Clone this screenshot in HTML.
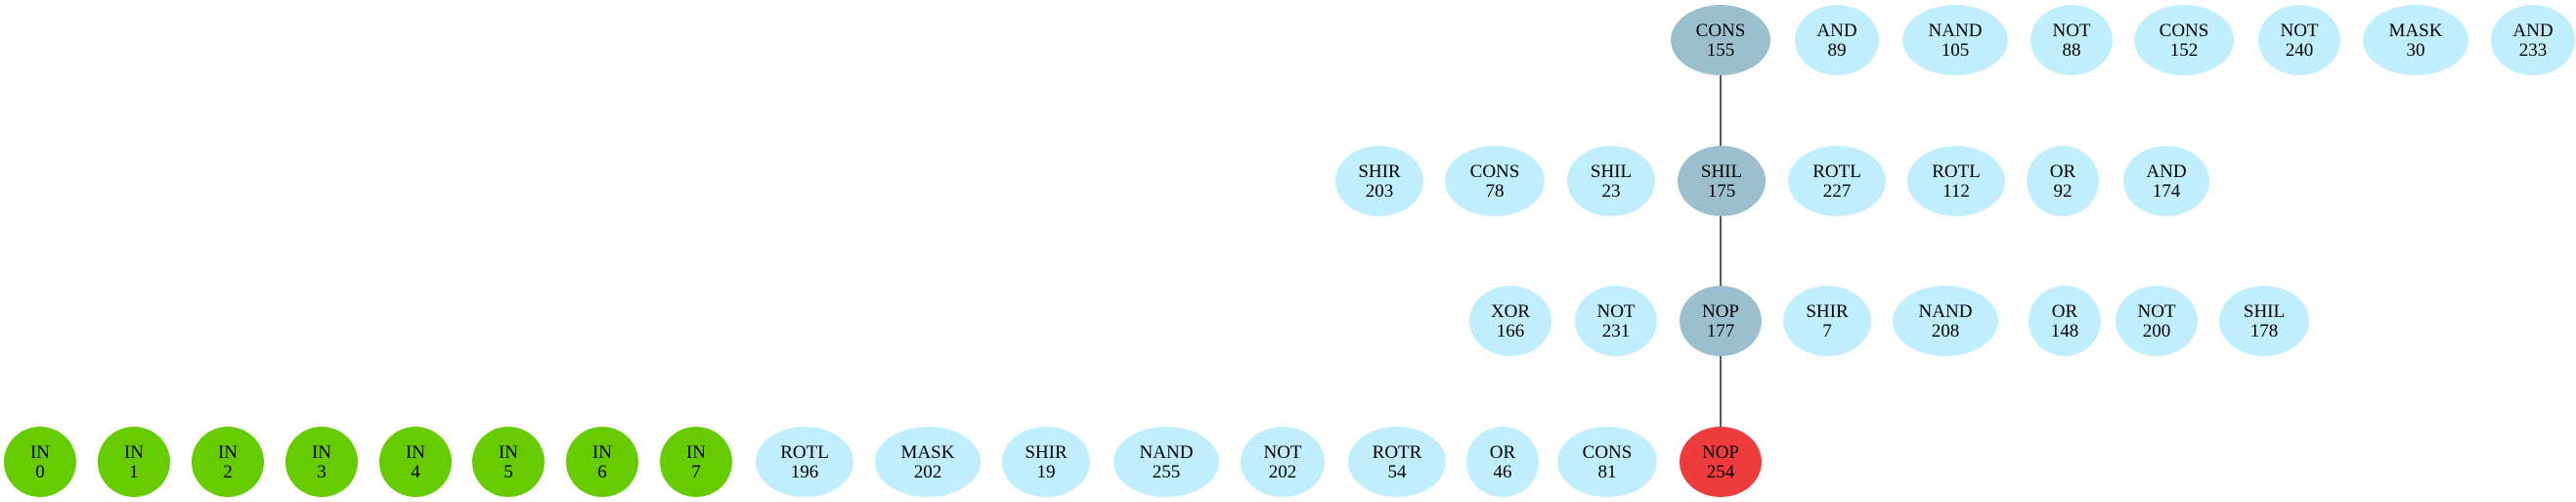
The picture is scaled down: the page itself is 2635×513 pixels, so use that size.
<!DOCTYPE html>
<html><head><meta charset="utf-8"><style>html,body{margin:0;padding:0;background:#fff;}svg{display:block}</style></head>
<body>
<svg width="2635" height="513" viewBox="0 0 2635 513" xmlns="http://www.w3.org/2000/svg" font-family="Liberation Serif, serif" font-size="19" text-anchor="middle">
<g stroke="#555" stroke-width="2">
<line x1="1760" y1="77" x2="1760" y2="149"/>
<line x1="1760" y1="221" x2="1760" y2="292"/>
<line x1="1760" y1="364" x2="1760" y2="436"/>
</g>
<ellipse cx="1760" cy="41" rx="51" ry="36" fill="#9bbfcc"/><text x="1760" y="37">CONS</text><text x="1760" y="57">155</text>
<ellipse cx="1879" cy="41" rx="43" ry="36" fill="#c0eefc"/><text x="1879" y="37">AND</text><text x="1879" y="57">89</text>
<ellipse cx="2000" cy="41" rx="54" ry="36" fill="#c0eefc"/><text x="2000" y="37">NAND</text><text x="2000" y="57">105</text>
<ellipse cx="2119" cy="41" rx="42" ry="36" fill="#c0eefc"/><text x="2119" y="37">NOT</text><text x="2119" y="57">88</text>
<ellipse cx="2234" cy="41" rx="51" ry="36" fill="#c0eefc"/><text x="2234" y="37">CONS</text><text x="2234" y="57">152</text>
<ellipse cx="2352" cy="41" rx="42" ry="36" fill="#c0eefc"/><text x="2352" y="37">NOT</text><text x="2352" y="57">240</text>
<ellipse cx="2471" cy="41" rx="54" ry="36" fill="#c0eefc"/><text x="2471" y="37">MASK</text><text x="2471" y="57">30</text>
<ellipse cx="2591" cy="41" rx="43" ry="36" fill="#c0eefc"/><text x="2591" y="37">AND</text><text x="2591" y="57">233</text>
<ellipse cx="1411" cy="185" rx="45" ry="36" fill="#c0eefc"/><text x="1411" y="181">SHIR</text><text x="1411" y="201">203</text>
<ellipse cx="1529" cy="185" rx="51" ry="36" fill="#c0eefc"/><text x="1529" y="181">CONS</text><text x="1529" y="201">78</text>
<ellipse cx="1648" cy="185" rx="45" ry="36" fill="#c0eefc"/><text x="1648" y="181">SHIL</text><text x="1648" y="201">23</text>
<ellipse cx="1761" cy="185" rx="45" ry="36" fill="#9bbfcc"/><text x="1761" y="181">SHIL</text><text x="1761" y="201">175</text>
<ellipse cx="1879" cy="185" rx="50" ry="36" fill="#c0eefc"/><text x="1879" y="181">ROTL</text><text x="1879" y="201">227</text>
<ellipse cx="2001" cy="185" rx="50" ry="36" fill="#c0eefc"/><text x="2001" y="181">ROTL</text><text x="2001" y="201">112</text>
<ellipse cx="2110" cy="185" rx="37" ry="36" fill="#c0eefc"/><text x="2110" y="181">OR</text><text x="2110" y="201">92</text>
<ellipse cx="2216" cy="185" rx="44" ry="36" fill="#c0eefc"/><text x="2216" y="181">AND</text><text x="2216" y="201">174</text>
<ellipse cx="1545" cy="328" rx="42" ry="36" fill="#c0eefc"/><text x="1545" y="324">XOR</text><text x="1545" y="344">166</text>
<ellipse cx="1653" cy="328" rx="42" ry="36" fill="#c0eefc"/><text x="1653" y="324">NOT</text><text x="1653" y="344">231</text>
<ellipse cx="1760" cy="328" rx="42" ry="36" fill="#9bbfcc"/><text x="1760" y="324">NOP</text><text x="1760" y="344">177</text>
<ellipse cx="1869" cy="328" rx="45" ry="36" fill="#c0eefc"/><text x="1869" y="324">SHIR</text><text x="1869" y="344">7</text>
<ellipse cx="1990" cy="328" rx="54" ry="36" fill="#c0eefc"/><text x="1990" y="324">NAND</text><text x="1990" y="344">208</text>
<ellipse cx="2112" cy="328" rx="37" ry="36" fill="#c0eefc"/><text x="2112" y="324">OR</text><text x="2112" y="344">148</text>
<ellipse cx="2206" cy="328" rx="42" ry="36" fill="#c0eefc"/><text x="2206" y="324">NOT</text><text x="2206" y="344">200</text>
<ellipse cx="2316" cy="328" rx="46" ry="36" fill="#c0eefc"/><text x="2316" y="324">SHIL</text><text x="2316" y="344">178</text>
<ellipse cx="41" cy="472" rx="37" ry="36" fill="#66cc00"/><text x="41" y="468">IN</text><text x="41" y="488">0</text>
<ellipse cx="137" cy="472" rx="37" ry="36" fill="#66cc00"/><text x="137" y="468">IN</text><text x="137" y="488">1</text>
<ellipse cx="233" cy="472" rx="37" ry="36" fill="#66cc00"/><text x="233" y="468">IN</text><text x="233" y="488">2</text>
<ellipse cx="329" cy="472" rx="37" ry="36" fill="#66cc00"/><text x="329" y="468">IN</text><text x="329" y="488">3</text>
<ellipse cx="425" cy="472" rx="37" ry="36" fill="#66cc00"/><text x="425" y="468">IN</text><text x="425" y="488">4</text>
<ellipse cx="520" cy="472" rx="37" ry="36" fill="#66cc00"/><text x="520" y="468">IN</text><text x="520" y="488">5</text>
<ellipse cx="616" cy="472" rx="37" ry="36" fill="#66cc00"/><text x="616" y="468">IN</text><text x="616" y="488">6</text>
<ellipse cx="712" cy="472" rx="37" ry="36" fill="#66cc00"/><text x="712" y="468">IN</text><text x="712" y="488">7</text>
<ellipse cx="823" cy="472" rx="50" ry="36" fill="#c0eefc"/><text x="823" y="468">ROTL</text><text x="823" y="488">196</text>
<ellipse cx="949" cy="472" rx="54" ry="36" fill="#c0eefc"/><text x="949" y="468">MASK</text><text x="949" y="488">202</text>
<ellipse cx="1070" cy="472" rx="45" ry="36" fill="#c0eefc"/><text x="1070" y="468">SHIR</text><text x="1070" y="488">19</text>
<ellipse cx="1193" cy="472" rx="54" ry="36" fill="#c0eefc"/><text x="1193" y="468">NAND</text><text x="1193" y="488">255</text>
<ellipse cx="1312" cy="472" rx="43" ry="36" fill="#c0eefc"/><text x="1312" y="468">NOT</text><text x="1312" y="488">202</text>
<ellipse cx="1429" cy="472" rx="50" ry="36" fill="#c0eefc"/><text x="1429" y="468">ROTR</text><text x="1429" y="488">54</text>
<ellipse cx="1537" cy="472" rx="37" ry="36" fill="#c0eefc"/><text x="1537" y="468">OR</text><text x="1537" y="488">46</text>
<ellipse cx="1644" cy="472" rx="51" ry="36" fill="#c0eefc"/><text x="1644" y="468">CONS</text><text x="1644" y="488">81</text>
<ellipse cx="1760" cy="472" rx="42" ry="36" fill="#ee3b3b"/><text x="1760" y="468">NOP</text><text x="1760" y="488">254</text>
</svg>
</body></html>
